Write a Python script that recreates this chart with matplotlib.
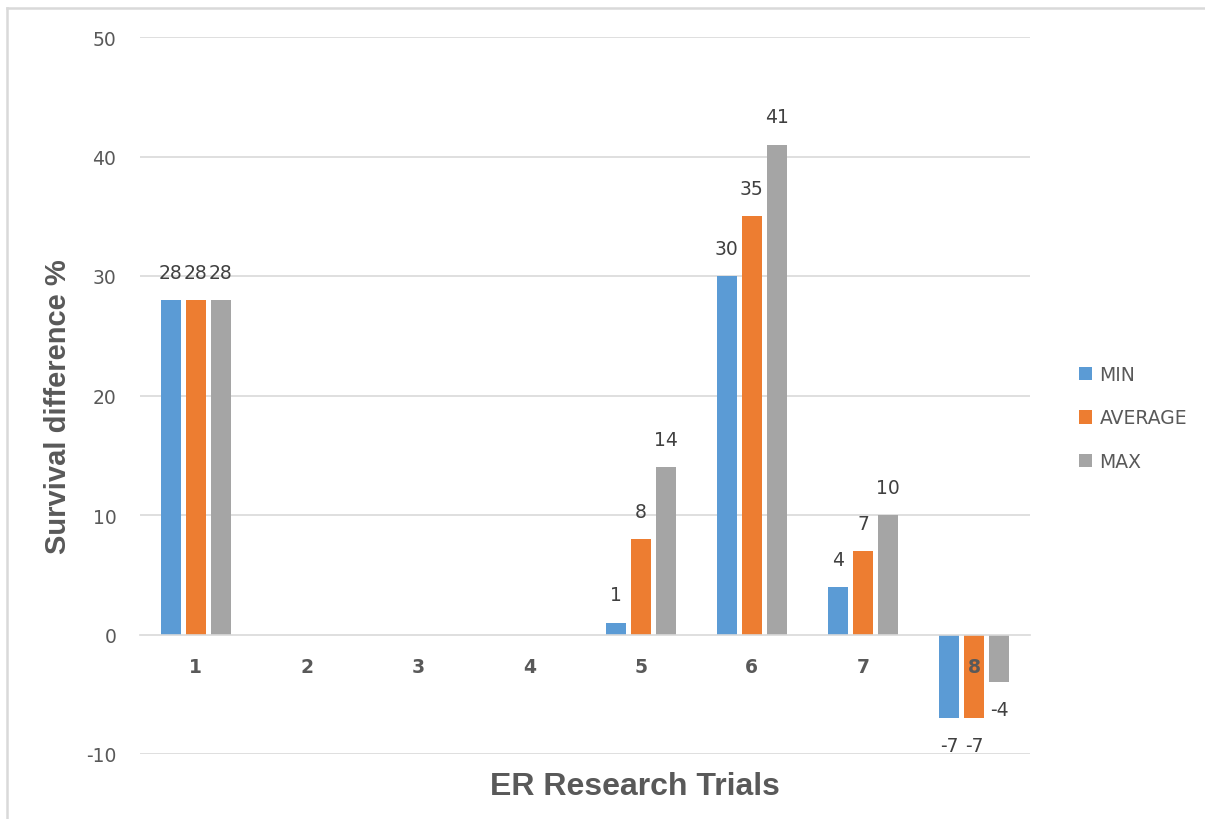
import numpy as np
import matplotlib.pyplot as plt
from matplotlib.lines import Line2D

plt.rcParams['axes.unicode_minus'] = False

# data (trials 2-4 have no values)
trials = ['1', '2', '3', '4', '5', '6', '7', '8']
min_vals = [28, np.nan, np.nan, np.nan, 1, 30, 4, -7]
avg_vals = [28, np.nan, np.nan, np.nan, 8, 35, 7, -7]
max_vals = [28, np.nan, np.nan, np.nan, 14, 41, 10, -4]
yticks = [-10, 0, 10, 20, 30, 40, 50]

fig = plt.figure(figsize=(12.05, 8.2), dpi=100)
ax = fig.add_axes([140/1205, 1 - 755/820, 890/1205, 717/820])

x = np.arange(1, len(trials) + 1)
w = 0.18
step = 0.225
colors = ['#5B9BD5', '#ED7D31', '#A5A5A5']
names = ['MIN', 'AVERAGE', 'MAX']

for i, (vals, c, n) in enumerate(zip([min_vals, avg_vals, max_vals], colors, names)):
    bars = ax.bar(x + (i - 1) * step, vals, w, color=c, label=n, zorder=1)
    labs = ['' if np.isnan(v) else '%d' % v for v in vals]
    ax.bar_label(bars, labels=labs, padding=13, fontsize=13.5, color='#404040')

# grid lines behind the bars
for t in yticks:
    if t != 0:
        ax.axhline(t, color='#d9d9d9', lw=1.2, zorder=0.5)

ax.set_xlim(0.5, 8.5)
ax.set_ylim(-10, 50)
ax.set_yticks(yticks)
ax.set_xticks(x)
ax.set_xticklabels(trials)

for s in ['top', 'right', 'left']:
    ax.spines[s].set_visible(False)
ax.spines['bottom'].set_position(('data', 0))
ax.spines['bottom'].set_color('#d9d9d9')
ax.spines['bottom'].set_linewidth(1.2)

ax.tick_params(axis='x', length=0, pad=16, labelsize=13.5, labelcolor='#595959')
ax.tick_params(axis='y', length=0, pad=17, labelsize=13.5, labelcolor='#595959')
for lab in ax.get_xticklabels():
    lab.set_fontweight('bold')

fig.text(58/1205, 1 - 407/820, 'Survival difference %', rotation=90, ha='center', va='center',
         fontsize=21, fontweight='bold', color='#595959', family='Liberation Sans')
fig.text(635/1205, 1 - 787/820, 'ER Research Trials', ha='center', va='center',
         fontsize=23, fontweight='bold', color='#595959', family='Liberation Sans')

fig.legend(loc='center left', bbox_to_anchor=(1062/1205, 1 - 419/820), frameon=False,
           fontsize=13.5, labelcolor='#595959', handlelength=0.7, handleheight=0.7,
           handletextpad=0.4, labelspacing=1.3)

# light frame (top and left edges visible)
fig.add_artist(Line2D([7/1205, 7/1205], [0, 1 - 9/820], color='#d9d9d9', lw=1.8))
fig.add_artist(Line2D([7/1205, 1], [1 - 9/820, 1 - 9/820], color='#d9d9d9', lw=1.8))

fig.savefig('out.png', dpi=100)
